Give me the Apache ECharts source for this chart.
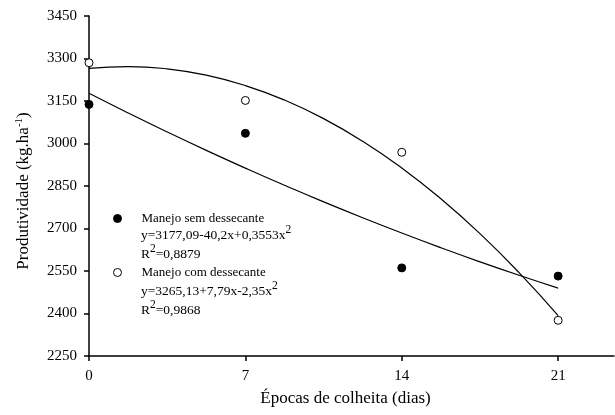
<!DOCTYPE html>
<html><head><meta charset="utf-8">
<script src="https://cdn.jsdelivr.net/npm/echarts@6/dist/echarts.min.js"></script>
<style>html,body{margin:0;padding:0;background:#fff}#c{width:615px;height:415px}</style>
</head><body><div id="c"></div>
<script>
var xTicks = [0, 7, 14, 21];
var yTicks = [2250, 2400, 2550, 2700, 2850, 3000, 3150, 3300, 3450];
var daysObs = [0, 7, 14, 21];
var semObs = [3138, 3036, 2561, 2532];
var comObs = [3285, 3152, 2969, 2376];
// fitted curves
var curveX = [0, 1.75, 3.5, 5.25, 7, 8.75, 10.5, 12.25, 14, 15.75, 17.5, 19.25, 21];
var semFit = [3177.1, 3107.8, 3040.7, 2975.8, 2913.1, 2852.5, 2794.2, 2738.0, 2683.9, 2632.1, 2582.4, 2534.9, 2489.6];
var comFit = [3265.1, 3271.6, 3263.6, 3241.3, 3204.5, 3153.4, 3087.8, 3007.9, 2913.6, 2804.9, 2681.7, 2544.3, 2392.4];
var names = ['Manejo sem dessecante', 'Manejo com dessecante'];
var eqSem = ['y=3177,09-40,2x+0,3553x', 'R', '=0,8879'];
var eqCom = ['y=3265,13+7,79x-2,35x', 'R', '=0,9868'];
var yTitle = ['Produtividade (kg.ha', '-1', ')'];
var xTitle = 'Épocas de colheita (dias)';

function pairs(xs, ys){ return xs.map(function(x,i){ return [x, ys[i]]; }); }
var FONT = 'Liberation Serif';
var chart = echarts.init(document.getElementById('c'));
var supRich = {
  n: {fontFamily: FONT, fontSize: 13.5, color: '#000'},
  s: {fontFamily: FONT, fontSize: 11.5, color: '#000', padding: [0,0,10,0]}
};
chart.setOption({
  animation: false,
  grid: {left: 89, top: 16, right: 1, bottom: 59},
  xAxis: {
    type: 'value', min: 0, max: 23.5, interval: 7,
    axisLine: {lineStyle: {color: '#000', width: 1.5}},
    axisTick: {length: 5, lineStyle: {color: '#000', width: 1.5}, customValues: xTicks},
    axisLabel: {color: '#000', fontFamily: FONT, fontSize: 15, margin: 13, customValues: xTicks},
    splitLine: {show: false},
    name: xTitle, nameLocation: 'middle', nameGap: 34,
    nameTextStyle: {color: '#000', fontFamily: FONT, fontSize: 17, padding: [0, 12, 0, 0]}
  },
  yAxis: {
    type: 'value', min: 2250, max: 3450, interval: 150,
    axisLine: {show: true, lineStyle: {color: '#000', width: 1.5}},
    axisTick: {show: true, length: 5, lineStyle: {color: '#000', width: 1.5}},
    axisLabel: {color: '#000', fontFamily: FONT, fontSize: 15, margin: 12,
      formatter: function(v){ return yTicks.indexOf(v) >= 0 ? String(v) : ''; }},
    splitLine: {show: false}
  },
  legend: {
    orient: 'vertical', left: 108, top: 207, itemGap: 41,
    icon: 'circle', itemWidth: 8, itemHeight: 8,
    itemStyle: {borderWidth: 1},
    data: names,
    textStyle: {color: '#000', fontFamily: FONT, fontSize: 13, padding: [0,0,0,15]}
  },
  graphic: [
    {type: 'text', x: 24, y: 191, rotation: Math.PI / 2, style: {
      text: '{n|' + yTitle[0] + '}{s|' + yTitle[1] + '}{n|' + yTitle[2] + '}',
      align: 'center', verticalAlign: 'middle',
      rich: {
        n: {fontFamily: FONT, fontSize: 17, color: '#000'},
        s: {fontFamily: FONT, fontSize: 11, color: '#000', padding: [0,0,10,0]}
      }}},
    {type: 'text', left: 141, top: 224, style: {
      text: '{n|' + eqSem[0] + '}{s|2}\n{n|' + eqSem[1] + '}{s|2}{n|' + eqSem[2] + '}',
      rich: supRich, lineHeight: 19}},
    {type: 'text', left: 141, top: 280, style: {
      text: '{n|' + eqCom[0] + '}{s|2}\n{n|' + eqCom[1] + '}{s|2}{n|' + eqCom[2] + '}',
      rich: supRich, lineHeight: 19}}
  ],
  series: [
    {type: 'line', data: pairs(curveX, semFit), smooth: true, showSymbol: false, symbol: 'none',
     lineStyle: {color: '#000', width: 1.2}, silent: true, z: 1},
    {type: 'line', data: pairs(curveX, comFit), smooth: true, showSymbol: false, symbol: 'none',
     lineStyle: {color: '#000', width: 1.2}, silent: true, z: 1},
    {name: names[0], type: 'scatter', data: pairs(daysObs, semObs), symbol: 'circle', symbolSize: 8,
     itemStyle: {color: '#000', borderColor: '#000', borderWidth: 1, opacity: 1}, z: 3},
    {name: names[1], type: 'scatter', data: pairs(daysObs, comObs), symbol: 'circle', symbolSize: 8,
     itemStyle: {color: '#fff', borderColor: '#000', borderWidth: 1, opacity: 1}, z: 3}
  ]
});
</script></body></html>
